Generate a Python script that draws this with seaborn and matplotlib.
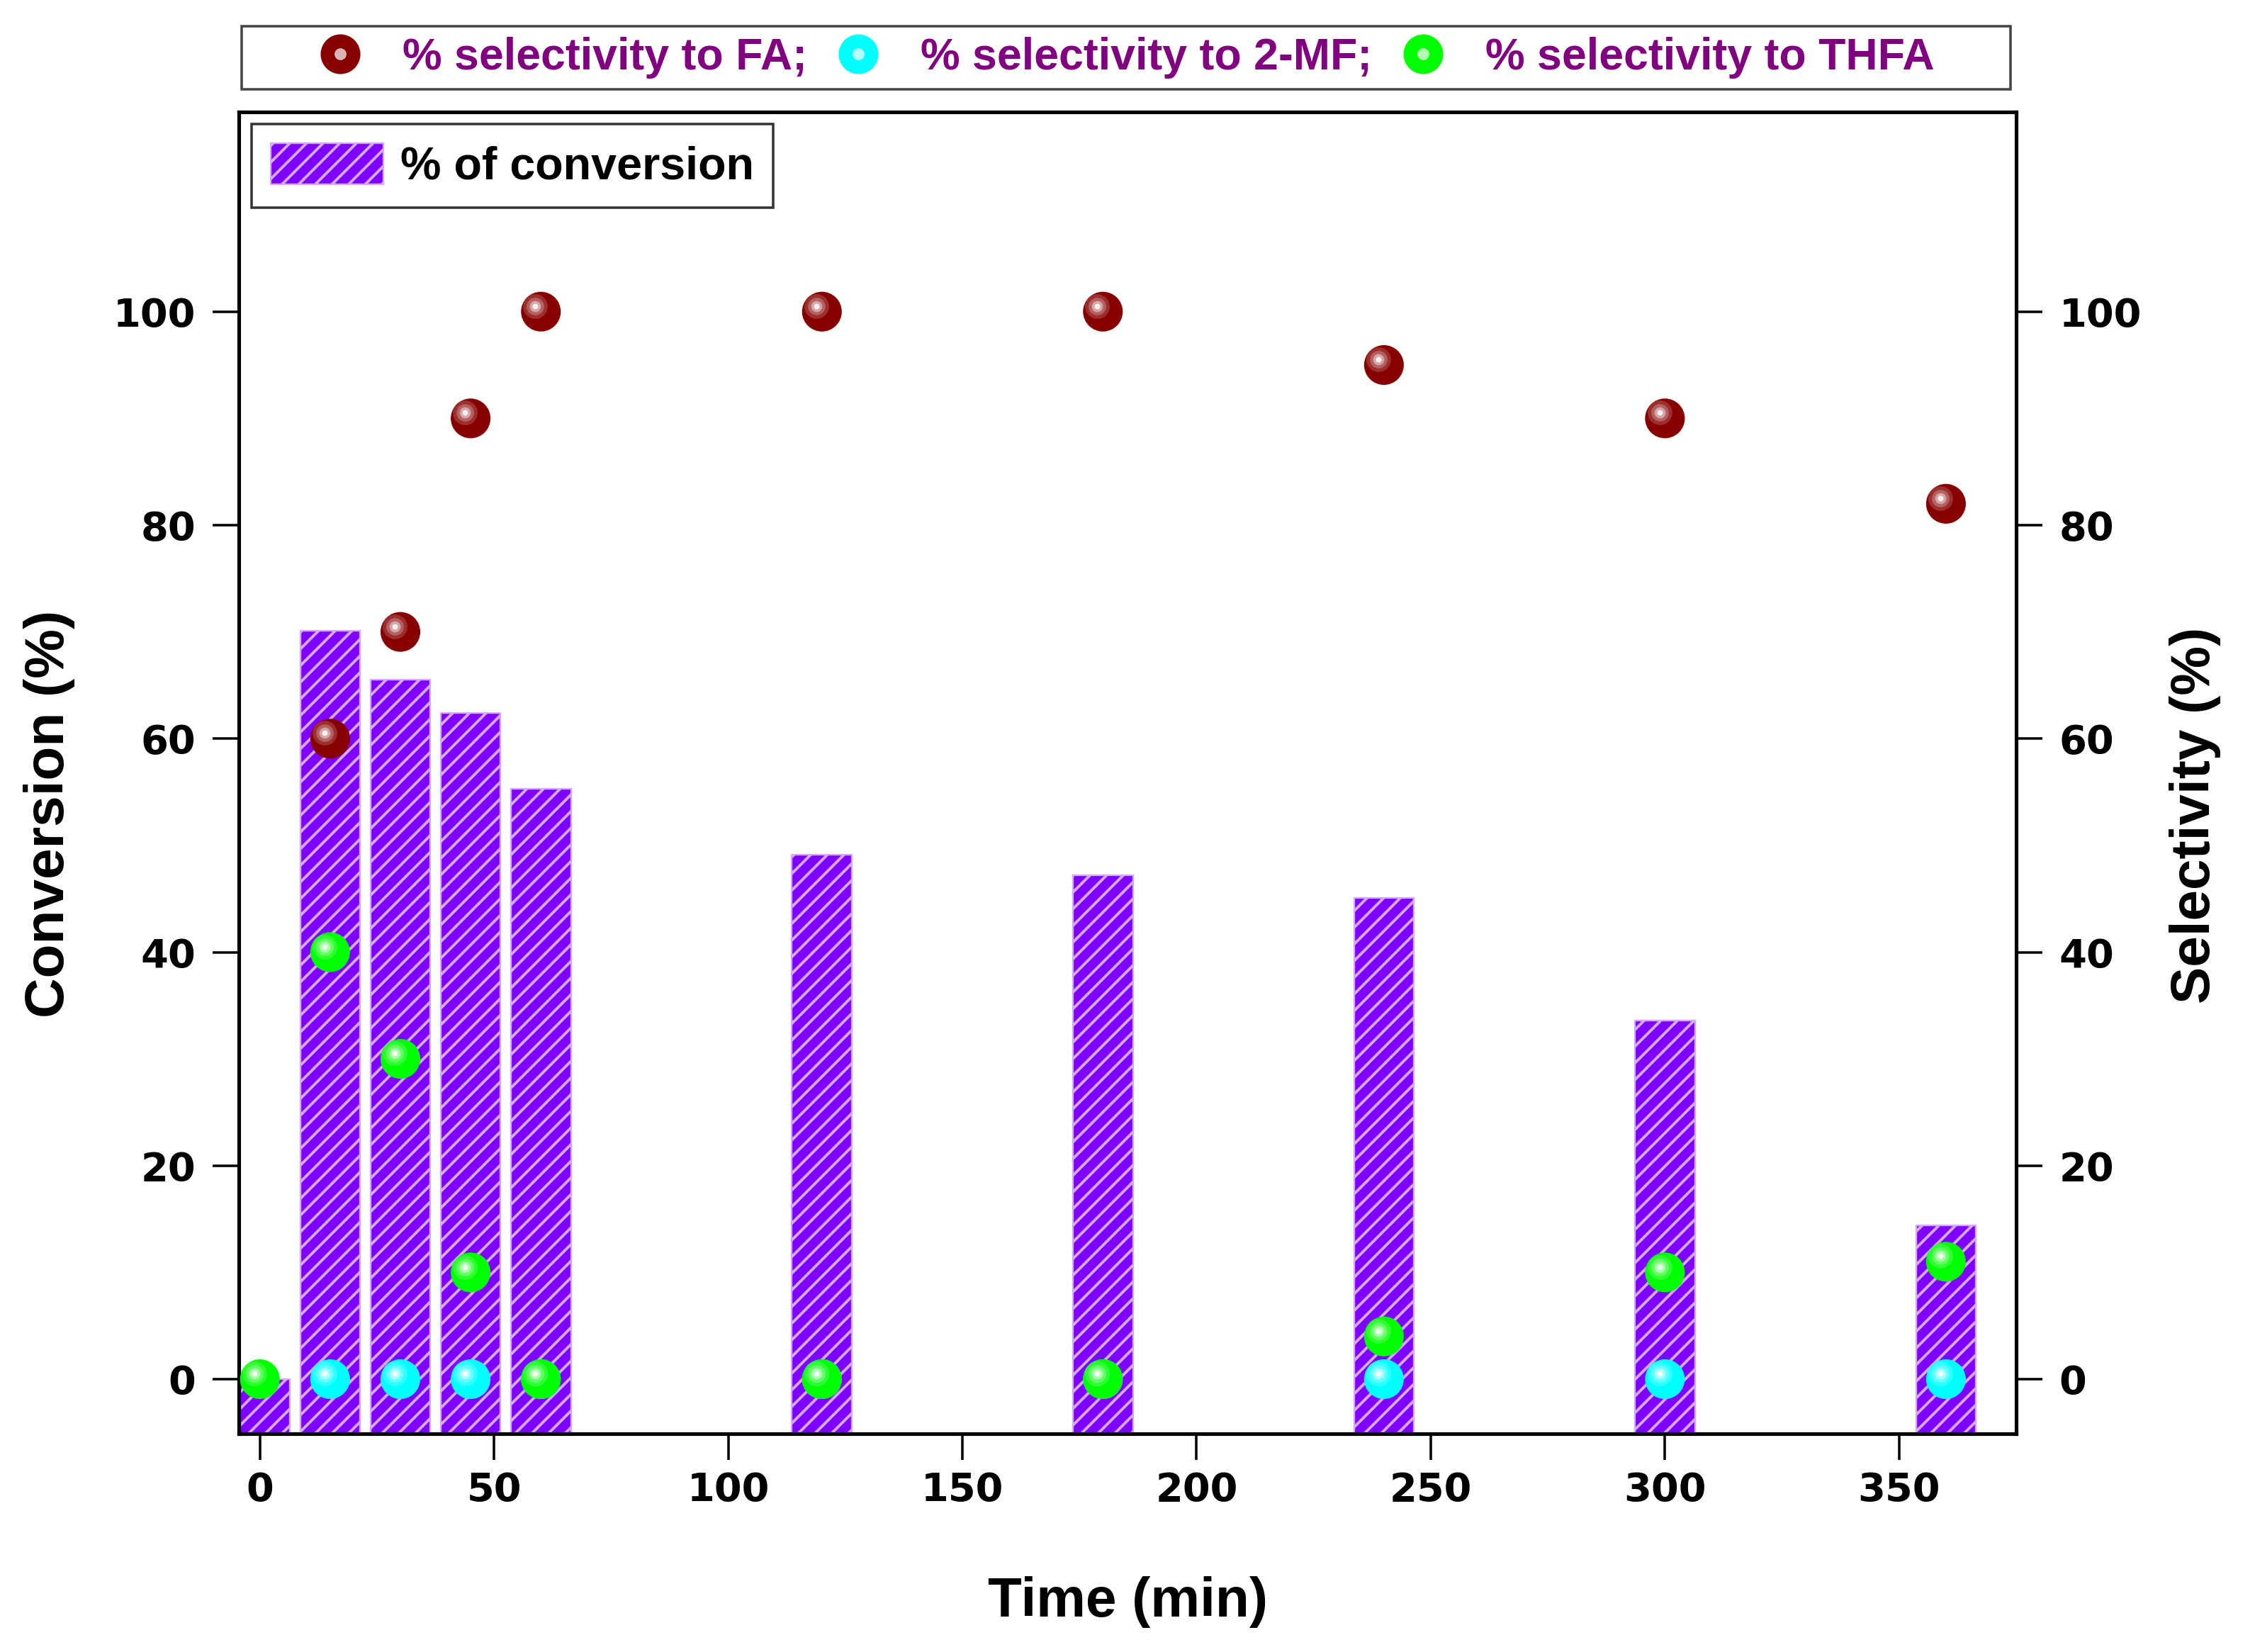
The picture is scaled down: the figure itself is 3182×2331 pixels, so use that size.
import numpy as np
import pandas as pd
import matplotlib
matplotlib.use("Agg")
import matplotlib.pyplot as plt
import matplotlib.colors as mcolors
import matplotlib.transforms as mtransforms
from matplotlib.lines import Line2D
from matplotlib.patches import Rectangle
from matplotlib.legend_handler import HandlerTuple
import seaborn as sns

# valori
time_min = [0, 15, 30, 45, 60, 120, 180, 240, 300, 360]
conversion = [0, 70.1, 65.5, 62.4, 55.3, 49.1, 47.2, 45.1, 33.6, 14.4]
sel_fa = [np.nan, 60, 70, 90, 100, 100, 100, 95, 90, 82]
sel_2mf = [np.nan, 0, 0, 0, 0, 0, 0, 0, 0, 0]
sel_thfa = [0, 40, 30, 10, 0, 0, 0, 4, 10, 11]
products = ["FA", "2-MF", "THFA"]
legend_labels = ["% selectivity to FA;", "% selectivity to 2-MF;", "% selectivity to THFA"]
x_ticks = [0, 50, 100, 150, 200, 250, 300, 350]
y_ticks = [0, 20, 40, 60, 80, 100]

colors = {"FA": "#870000", "2-MF": "#00FFFF", "THFA": "#00FF00"}
Y_MIN, Y_MAX = -5.1, 118.7
X_MIN, X_MAX = -4.5, 375
DOT = 820

# tabel lung pentru seaborn
sel = pd.DataFrame({
    "Time": time_min * 3,
    "Sel": sel_fa + sel_2mf + sel_thfa,
    "Product": ["FA"] * 10 + ["2-MF"] * 10 + ["THFA"] * 10,
}).dropna()

sns.set_theme(style="ticks")
plt.rcParams["font.family"] = ["Liberation Sans", "DejaVu Sans"]
plt.rcParams["font.weight"] = "bold"
plt.rcParams["text.color"] = "black"
plt.rcParams["axes.labelcolor"] = "black"
plt.rcParams["hatch.linewidth"] = 2.0

fig = plt.figure(figsize=(3182 / 141, 2331 / 141), dpi=141)
fig.subplots_adjust(left=0.1059, right=0.8941, bottom=0.1322, top=0.9322)
ax = fig.add_subplot(111)
ax2 = ax.twinx()

# bare de conversie (pornesc de la baza axei)
bars = ax.bar(time_min, np.array(conversion) - Y_MIN, bottom=Y_MIN, width=12.8,
              color="#8000FF", edgecolor="#D4AAFF", linewidth=1.2, hatch="//",
              label="% of conversion", zorder=2)

# puncte de selectivitate
sns.scatterplot(data=sel, x="Time", y="Sel", hue="Product", palette=colors,
                s=DOT, linewidth=0, legend=False, ax=ax2, zorder=3)

# reflexe "sfera"
r_in = np.sqrt(DOT) / 2 / 72
shift = mtransforms.ScaledTranslation(-0.28 * r_in, 0.28 * r_in, fig.dpi_scale_trans)
for frac, mix in [(0.62, 0.18), (0.44, 0.38), (0.28, 0.65), (0.14, 0.95)]:
    for p in products:
        d = sel[sel["Product"] == p]
        c = np.array(mcolors.to_rgb(colors[p]))
        c = c + (1 - c) * mix
        ax2.scatter(d["Time"], d["Sel"], s=DOT * frac ** 2, color=c, linewidth=0,
                    transform=ax2.transData + shift, zorder=4)

tick_font = {"family": "DejaVu Sans", "weight": "bold", "size": 28.5}
for a in (ax, ax2):
    a.set_xlim(X_MIN, X_MAX)
    a.set_ylim(Y_MIN, Y_MAX)
    for s in a.spines.values():
        s.set_linewidth(2.6)
        s.set_color("black")
    a.tick_params(direction="out", length=19, width=1.8, colors="black")
    a.grid(False)

ax.set_xticks(x_ticks)
ax.set_yticks(y_ticks)
ax2.set_yticks(y_ticks)
for lab in ax.get_xticklabels() + ax.get_yticklabels() + ax2.get_yticklabels():
    lab.set_fontproperties(tick_font)
ax.tick_params(axis="x", pad=8)
ax.tick_params(axis="y", pad=12)
ax2.tick_params(axis="y", pad=12)

ax.set_xlabel("Time (min)", fontsize=40, fontweight="bold")
ax.set_ylabel("Conversion (%)", fontsize=40, fontweight="bold")
ax2.set_ylabel("Selectivity (%)", fontsize=40, fontweight="bold")
ax.xaxis.set_label_coords(0.5, -0.108)
ax.yaxis.set_label_coords(-0.092, 0.469)
ax2.yaxis.set_label_coords(1.086, 0.468)

# legenda barelor
leg1 = ax.legend(handles=[bars], labels=["% of conversion"], loc="upper left",
                 bbox_to_anchor=(0.0072, 0.9911), borderaxespad=0, fancybox=False,
                 edgecolor="#333333", framealpha=1, handlelength=2.45, handleheight=1.0,
                 handletextpad=0.38, borderpad=0.42,
                 prop={"weight": "bold", "size": 33})
leg1.get_frame().set_linewidth(1.8)

# legenda de sus
handles = []
for p in products:
    c = np.array(mcolors.to_rgb(colors[p]))
    base = Line2D([], [], ls="", marker="o", ms=np.sqrt(DOT), mfc=colors[p], mew=0)
    hi = Line2D([], [], ls="", marker="o", ms=np.sqrt(DOT) * 0.3,
                mfc=c + (1 - c) * 0.7, mew=0)
    handles.append((base, hi))
ax2.legend(handles, legend_labels, loc="center", bbox_to_anchor=(0.4993, 1.041),
           ncol=3, frameon=False, handlelength=1.0, handletextpad=0.9,
           columnspacing=0.65, labelcolor="#800080",
           prop={"weight": "bold", "size": 32},
           handler_map={tuple: HandlerTuple(ndivide=1)})
ax2.add_artist(Rectangle((0.0016, 1.0172), 0.9952, 0.0477, transform=ax2.transAxes,
                         fill=False, edgecolor="#444444", linewidth=1.8, clip_on=False))

plt.savefig("out.png", dpi=141)
